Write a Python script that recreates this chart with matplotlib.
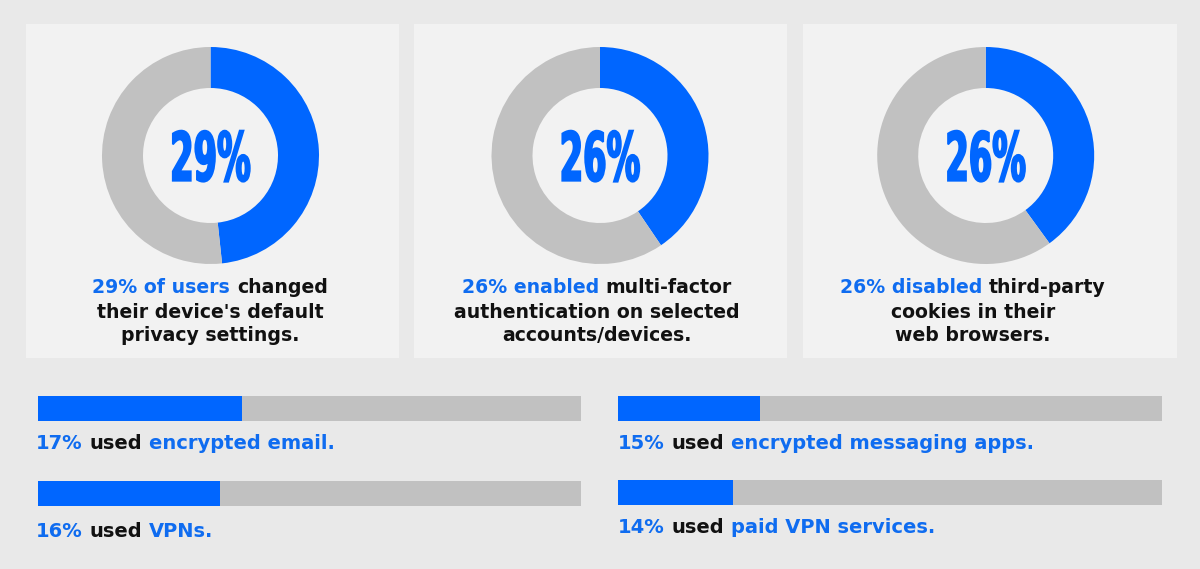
import matplotlib
matplotlib.use("Agg")
import matplotlib.pyplot as plt
from matplotlib.patches import Rectangle
from matplotlib.patheffects import AbstractPathEffect
from matplotlib.transforms import Affine2D

# ---------------- data ----------------
donut_labels = ["29%", "26%", "26%"]
donut_fill = [0.483, 0.405, 0.400]          # blue share of each ring as drawn
donut_captions = [
    [[("29% of users", "hl"), (" changed", "tx")],
     [("their device's default", "tx")],
     [("privacy settings.", "tx")]],
    [[("26% enabled", "hl"), (" multi-factor", "tx")],
     [("authentication on selected", "tx")],
     [("accounts/devices.", "tx")]],
    [[("26% disabled", "hl"), (" third-party", "tx")],
     [("cookies in their", "tx")],
     [("web browsers.", "tx")]],
]
bar_fill = [0.376, 0.335, 0.261, 0.211]      # blue share of each bar as drawn
bar_texts = [
    [("17%", "hl"), (" used ", "tx"), ("encrypted email.", "hl")],
    [("16%", "hl"), (" used ", "tx"), ("VPNs.", "hl")],
    [("15%", "hl"), (" used ", "tx"), ("encrypted messaging apps.", "hl")],
    [("14%", "hl"), (" used ", "tx"), ("paid VPN services.", "hl")],
]

# ---------------- style ----------------
W, H = 1200, 569
BG = "#e9e9e9"
PANEL = "#f2f2f2"
BLUE = "#0066ff"
GRAY = "#c1c1c1"
TBLUE = "#0f6cf0"
BLACK = "#111111"
CMAP = {"hl": TBLUE, "tx": BLACK}
TEXT_KW = dict(family="DejaVu Sans", weight="bold")

fig = plt.figure(figsize=(W / 100, H / 100), dpi=100, facecolor=BG)
renderer = fig.canvas.get_renderer()


def fx(x):
    return x / W


def fy(y):
    return 1 - y / H


# panels
panel_x = [(26, 399), (414, 787), (803, 1177)]
for x0, x1 in panel_x:
    fig.patches.append(Rectangle((fx(x0), fy(358)), (x1 - x0) / W, (358 - 24) / H,
                                 transform=fig.transFigure, facecolor=PANEL,
                                 edgecolor="none", zorder=-5))


class SqueezeX(AbstractPathEffect):
    """Horizontally condense the glyphs of a text around its anchor."""

    def __init__(self, artist, sx, stroke=0.0):
        super().__init__()
        self.artist = artist
        self.sx = sx
        self.stroke = stroke

    def draw_path(self, renderer, gc, tpath, affine, rgbFace=None):
        cx = self.artist.get_transform().transform(self.artist.get_position())[0]
        aff = affine + Affine2D().translate(-cx, 0).scale(self.sx, 1).translate(cx, 0)
        gc0 = renderer.new_gc()
        gc0.copy_properties(gc)
        if self.stroke:
            gc0.set_linewidth(self.stroke)
            gc0.set_foreground(rgbFace)
            gc0.set_joinstyle("miter")
        renderer.draw_path(gc0, tpath, aff, rgbFace)
        gc0.restore()


# donuts
donut_centers = [(210.5, 155.5), (600.0, 155.5), (985.7, 155.5)]
R_OUT, R_IN = 108.5, 67.5
for (cx, cy), frac, lab in zip(donut_centers, donut_fill, donut_labels):
    ax = fig.add_axes([fx(cx - R_OUT), fy(cy + R_OUT), 2 * R_OUT / W, 2 * R_OUT / H])
    ax.set_zorder(1)
    ax.pie([frac, 1 - frac], colors=[BLUE, GRAY], startangle=90, counterclock=False,
           radius=1, wedgeprops=dict(width=(R_OUT - R_IN) / R_OUT, linewidth=0))
    ax.set_xlim(-1, 1)
    ax.set_ylim(-1, 1)
    ax.axis("off")
    t = ax.text(0, -0.232, lab, ha="center", va="baseline", color=BLUE,
                family="DejaVu Sans", weight="bold", fontsize=48.5)
    t.set_path_effects([SqueezeX(t, 0.50, stroke=1.4)])


# rich text helpers
def text_w(s, **kw):
    t = fig.text(0, 0, s, **kw)
    w = t.get_window_extent(renderer).width
    t.remove()
    return w


def prefix_w(s, **kw):
    if not s:
        return 0.0
    return text_w(s + "X", **kw) - text_w("X", **kw)


def rich_line(parts, x, y, align="left", **kw):
    full = "".join(p for p, _ in parts)
    total = prefix_w(full, **kw)
    x0 = x - total / 2 if align == "center" else x
    acc = ""
    for s, c in parts:
        stripped = s.lstrip(" ")
        lead = s[: len(s) - len(stripped)]
        off = prefix_w(acc + lead, **kw)
        fig.text(fx(x0 + off), fy(y), stripped.rstrip(" "), color=CMAP[c],
                 ha="left", va="baseline", zorder=3, **kw)
        acc += s


caption_cx = [210, 597, 973]
caption_base = [293, 317.5, 341]
for cx, lines in zip(caption_cx, donut_captions):
    for y, parts in zip(caption_base, lines):
        rich_line(parts, cx, y, align="center", fontsize=13.6, **TEXT_KW)

# bars
bar_rects = [(38, 581, 396, 421), (38, 581, 481, 506),
             (618, 1162, 396, 421), (618, 1162, 480, 505)]
text_pos = [(36, 449), (36, 537), (618, 449), (618, 533)]
for (x0, x1, y0, y1), frac, parts, (tx, ty) in zip(bar_rects, bar_fill, bar_texts, text_pos):
    ax = fig.add_axes([fx(x0), fy(y1), (x1 - x0) / W, (y1 - y0) / H])
    ax.set_zorder(1)
    ax.barh(0, 1, height=1, color=GRAY, linewidth=0)
    ax.barh(0, frac, height=1, color=BLUE, linewidth=0)
    ax.set_xlim(0, 1)
    ax.set_ylim(-0.5, 0.5)
    ax.axis("off")
    rich_line(parts, tx, ty, align="left", fontsize=14, **TEXT_KW)

fig.savefig("out.png", dpi=100, facecolor=BG)
